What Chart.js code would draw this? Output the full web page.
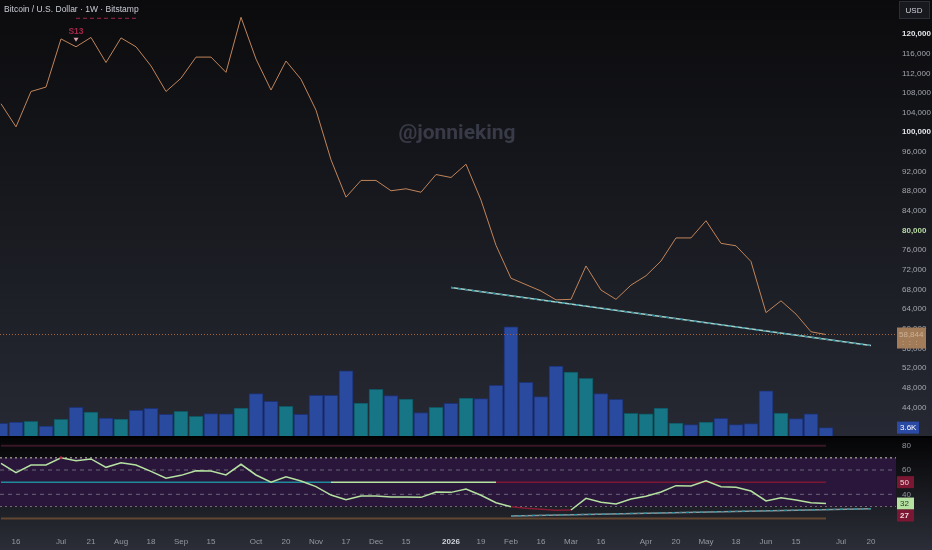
<!DOCTYPE html>
<html>
<head>
<meta charset="utf-8">
<script src="https://cdn.jsdelivr.net/npm/chart.js@4.4.1/dist/chart.umd.min.js"></script>
<style>
  html, body { margin: 0; padding: 0; background: #0b0b0d; overflow: hidden; }
  #wrap { position: relative; width: 932px; height: 550px; }
  canvas { position: absolute; left: 0; }
  #price { top: 0; }
  #rsi { top: 436px; }
</style>
</head>
<body>
<div id="wrap">
  <canvas id="price" width="932" height="436"></canvas>
  <canvas id="rsi" width="932" height="114"></canvas>
</div>
<script>
// weekly bars, Jun 9 2025 .. Jun 29 2026 (index 0..55)
const prices = [105800, 101100, 108300, 109200, 119000, 117400, 119300, 114200, 119200, 117400,
  113500, 108300, 111000, 115300, 115300, 112200, 123400, 114900, 108600, 114500,
  110800, 104500, 94400, 86800, 90200, 90200, 88100, 88500, 87800, 91400,
  90800, 93500, 86200, 77000, 70300, 69000, 67700, 65900, 66000, 72800,
  67900, 66000, 68900, 70800, 73800, 78500, 78500, 82000, 77400, 76900,
  73700, 63300, 65700, 63000, 59400, 58844];

// volume in thousands of BTC, 1 = up week
const volumes = [5.4, 6.0, 6.3, 4.3, 7.2, 12.3, 10.3, 7.7, 7.3, 11.0,
  11.9, 9.3, 10.6, 8.5, 9.6, 9.5, 12.0, 18.2, 14.9, 12.8,
  9.3, 17.5, 17.5, 28.0, 14.2, 20.1, 17.4, 15.9, 10.1, 12.3,
  14.1, 16.3, 16.1, 21.8, 46.9, 23.1, 16.9, 30.1, 27.5, 24.8,
  18.2, 15.8, 9.8, 9.5, 12.0, 5.6, 4.9, 6.0, 7.6, 4.9,
  5.3, 19.4, 9.9, 7.5, 9.5, 3.6];
const volUp = [0, 0, 1, 0, 1, 0, 1, 0, 1, 0,
  0, 0, 1, 1, 0, 0, 1, 0, 0, 1,
  0, 0, 0, 0, 1, 1, 0, 1, 0, 1,
  0, 1, 0, 0, 0, 0, 0, 0, 1, 1,
  0, 0, 1, 1, 1, 1, 0, 1, 0, 0,
  0, 0, 1, 0, 0, 0];

const rsi = [65.5, 57.8, 64.1, 64.1, 70.1, 67.7, 69.1, 62.2, 66.0, 64.1,
  58.9, 53.2, 55.6, 59.4, 59.2, 55.9, 64.7, 55.9, 49.9, 54.5,
  50.9, 46.3, 39.4, 35.6, 38.6, 38.6, 37.8, 37.8, 37.5, 41.9,
  41.6, 44.4, 39.2, 33.1, 29.8, 28.5, 27.7, 26.8, 27.1, 36.7,
  33.4, 32.0, 36.1, 38.4, 41.9, 47.1, 46.8, 51.2, 46.3, 45.8,
  42.7, 34.5, 37.2, 35.3, 33.1, 32.4];

// state of the 50 line: starts at these bar indexes
const midStart = [0, 22, 33];
const midState = ['up', 'flat', 'down'];

// drawn trend lines (bar index / value)
const trendIdx = [30, 58];
const trendVal = [68400, 56600];
const rsiTrendIdx = [34, 58];
const rsiTrendVal = [22.2, 28.2];

// TD sequential S13 level
const tdIdx = [5, 9];
const tdLevel = 123200;
const tdLabelIdx = 5;

const priceTicks = [44000, 48000, 52000, 56000, 60000, 64000, 68000, 72000, 76000, 80000,
  84000, 88000, 92000, 96000, 100000, 104000, 108000, 112000, 116000, 120000];
const rsiTicks = [40, 60, 80];
const timeTickIdx = [1, 4, 6, 8, 10, 12, 14, 17, 19, 21, 23, 25, 27, 30, 32, 34, 36, 38, 40, 43, 45, 47, 49, 51, 53, 56, 58];
const timeTickText = ['16', 'Jul', '21', 'Aug', '18', 'Sep', '15', 'Oct', '20', 'Nov', '17', 'Dec', '15', '2026',
  '19', 'Feb', '16', 'Mar', '16', 'Apr', '20', 'May', '18', 'Jun', '15', 'Jul', '20'];

const X_MIN = -0.0667;
const X_MAX = 59.6667;
const FONT = '"Liberation Sans", Arial, sans-serif';
const AXIS_W = 36;

Chart.defaults.font.family = FONT;
Chart.defaults.animation = false;

const last = prices.length - 1;
const xy = (arr) => arr.map((v, i) => ({ x: i, y: v }));
const span = (v) => [{ x: X_MIN, y: v }, { x: X_MAX, y: v }];
const upto = (v) => [{ x: 0, y: v }, { x: last, y: v }];

// no label overflow padding, panes must line up exactly
function noPad(s) {
  s.paddingTop = 0; s.paddingBottom = 0; s.paddingLeft = 0; s.paddingRight = 0;
}

function box(ctx, x, y, w, h, fill, text, color, font) {
  ctx.fillStyle = fill;
  ctx.fillRect(x, y - h / 2, w, h);
  ctx.fillStyle = color;
  ctx.font = font;
  ctx.textBaseline = 'middle';
  ctx.textAlign = 'left';
  ctx.fillText(text, x + 3, y + 0.5);
}

const bigTick = (v) => v === 120000 || v === 100000 || v === 80000;

const pricePlugin = {
  id: 'pricePane',
  beforeDraw(chart) {
    const { ctx, width, height } = chart;
    const g = ctx.createLinearGradient(0, 0, 0, height);
    g.addColorStop(0, '#0b0b0d');
    g.addColorStop(1, '#262933');
    ctx.save();
    ctx.fillStyle = g;
    ctx.fillRect(0, 0, width, height);
    ctx.restore();
  },
  beforeDatasetsDraw(chart) {
    const { ctx } = chart;
    ctx.save();
    ctx.font = 'bold 21px Roboto, ' + FONT;
    ctx.fillStyle = '#383b47';
    ctx.textAlign = 'center';
    ctx.textBaseline = 'middle';
    ctx.fillText('@jonnieking', 457, 134);
    ctx.restore();
  },
  afterDraw(chart) {
    const { ctx } = chart;
    const xs = chart.scales.x, ys = chart.scales.y, yv = chart.scales.yv;
    ctx.save();
    // title
    ctx.font = '8.5px ' + FONT;
    ctx.fillStyle = '#c9ccd4';
    ctx.textBaseline = 'middle';
    ctx.textAlign = 'left';
    ctx.fillText('Bitcoin / U.S. Dollar \u00b7 1W \u00b7 Bitstamp', 4, 10);
    // S13 marker
    const sx = xs.getPixelForValue(tdLabelIdx);
    const sy = ys.getPixelForValue(prices[tdLabelIdx]);
    ctx.font = 'bold 8.5px ' + FONT;
    ctx.fillStyle = '#a3264a';
    ctx.textAlign = 'center';
    ctx.fillText('S13', sx, sy - 15);
    ctx.fillStyle = '#d9a3ad';
    ctx.beginPath();
    ctx.moveTo(sx - 2.5, sy - 9);
    ctx.lineTo(sx + 2.5, sy - 9);
    ctx.lineTo(sx, sy - 5);
    ctx.closePath();
    ctx.fill();
    // USD box
    ctx.fillStyle = '#17191e';
    ctx.strokeStyle = '#2c2f37';
    ctx.lineWidth = 1;
    ctx.fillRect(899.5, 1.5, 30, 17);
    ctx.strokeRect(899.5, 1.5, 30, 17);
    ctx.fillStyle = '#d1d4dc';
    ctx.font = '8px ' + FONT;
    ctx.textAlign = 'center';
    ctx.fillText('USD', 914, 10.5);
    // last price box
    const py = ys.getPixelForValue(prices[last]);
    ctx.fillStyle = '#a27b58';
    ctx.fillRect(897, py - 7, 29, 21);
    ctx.fillStyle = 'rgba(255,240,225,0.45)';
    ctx.font = '8px ' + FONT;
    ctx.textAlign = 'left';
    ctx.fillText(prices[last].toLocaleString('en-US'), 899, py);
    ctx.fillText(':  :  :', 902, py + 8);
    // volume box
    const vy = yv.getPixelForValue(volumes[last]);
    box(ctx, 897, Math.max(vy, 426.7), 22, 12, '#2b4aa6', volumes[last].toFixed(1) + 'K', '#ffffff', '8px ' + FONT);
    ctx.restore();
  }
};

new Chart(document.getElementById('price'), {
  data: {
    datasets: [
      {
        type: 'line', data: xy(prices), borderColor: '#c0845a', borderWidth: 1,
        pointRadius: 0, tension: 0, order: 1
      },
      {
        type: 'line', data: trendIdx.map((x, k) => ({ x, y: trendVal[k] })),
        borderColor: '#2b8d9d', borderWidth: 1.4, borderDash: [3, 4], pointRadius: 0, order: 2
      },
      {
        type: 'line', data: trendIdx.map((x, k) => ({ x, y: trendVal[k] })),
        borderColor: '#a9cfc9', borderWidth: 1.6, pointRadius: 0, order: 3
      },
      {
        type: 'line', data: span(prices[last]), borderColor: '#a8653a', borderWidth: 1,
        borderDash: [1, 2], pointRadius: 0, order: 4
      },
      {
        type: 'line', data: tdIdx.map((x) => ({ x, y: tdLevel })), borderColor: '#a3264a',
        borderWidth: 1, borderDash: [4, 3], pointRadius: 0, order: 4
      },
      {
        type: 'bar', yAxisID: 'yv', data: xy(volumes), barThickness: 14, order: 10,
        backgroundColor: volUp.map((u) => (u ? '#167686' : '#2a4aa0')),
        borderColor: volUp.map((u) => (u ? '#0f5560' : '#1d3275')),
        borderWidth: 1, borderSkipped: 'bottom'
      }
    ]
  },
  options: {
    responsive: false,
    devicePixelRatio: 1,
    layout: { padding: 0 },
    plugins: { legend: { display: false }, tooltip: { enabled: false } },
    scales: {
      x: { type: 'linear', min: X_MIN, max: X_MAX, offset: false, display: false },
      y: {
        position: 'right', min: 38193, max: 126919,
        grid: { display: false, drawTicks: false }, border: { display: false },
        afterFit(s) { s.width = AXIS_W; noPad(s); },
        afterBuildTicks(s) { s.ticks = priceTicks.map((v) => ({ value: v })); },
        ticks: {
          padding: 6,
          callback: (v) => v.toLocaleString('en-US'),
          color: (c) => {
            const v = c.tick ? c.tick.value : 0;
            if (v === 80000) return '#b7dba4';
            return bigTick(v) ? '#e3e5ea' : '#a3a6af';
          },
          font: (c) => ({ size: 8, weight: c.tick && bigTick(c.tick.value) ? 'bold' : 'normal' })
        }
      },
      yv: { display: false, min: 0, max: 187.5 }
    }
  },
  plugins: [pricePlugin]
});

const midColors = { up: '#1f8b9b', flat: '#b5e1a1', down: '#7c1733' };
function midAt(i) {
  let s = midState[0];
  midStart.forEach((st, k) => { if (i >= st) s = midState[k]; });
  return midColors[s];
}
function trendAt(i) {
  const t = (i - rsiTrendIdx[0]) / (rsiTrendIdx[1] - rsiTrendIdx[0]);
  return rsiTrendVal[0] + t * (rsiTrendVal[1] - rsiTrendVal[0]);
}

const rsiPlugin = {
  id: 'rsiPane',
  beforeDraw(chart) {
    const { ctx, width, height } = chart;
    const g = ctx.createLinearGradient(0, 0, 0, height);
    g.addColorStop(0, '#040405');
    g.addColorStop(0.55, '#1b1c22');
    g.addColorStop(1, '#2b2e38');
    ctx.save();
    ctx.fillStyle = g;
    ctx.fillRect(0, 0, width, height);
    ctx.fillStyle = '#000000';
    ctx.fillRect(0, 0, width, 2);
    ctx.restore();
  },
  afterDraw(chart) {
    const { ctx } = chart;
    const ys = chart.scales.y;
    ctx.save();
    const f = '8px ' + FONT;
    box(ctx, 897, ys.getPixelForValue(50), 17, 12, '#7c1733', '50', '#f0d8dc', f);
    const y32 = ys.getPixelForValue(rsi[last]);
    box(ctx, 897, y32, 17, 12, '#b5e1a1', String(Math.round(rsi[last])), '#2a3a25', f);
    const tv = trendAt(last);
    const yt = Math.max(ys.getPixelForValue(tv), y32 + 12);
    box(ctx, 897, yt, 17, 12, '#7c1733', String(Math.floor(tv)), '#f0d8dc', 'bold ' + f);
    ctx.restore();
  }
};

const isBoldTime = (c) => c.index !== undefined && timeTickText[c.index] === '2026';

new Chart(document.getElementById('rsi'), {
  type: 'line',
  data: {
    datasets: [
      {
        data: xy(rsi), borderColor: '#b5e1a1', borderWidth: 1.5, tension: 0, order: 1,
        segment: { borderColor: (c) => (c.p0.parsed.y < 30 && c.p1.parsed.y < 30 ? '#8a1a38' : undefined) },
        pointRadius: (c) => (c.raw && c.raw.y >= 70 ? 1.5 : 0),
        pointBackgroundColor: '#c0304a', pointBorderWidth: 0
      },
      {
        data: rsiTrendIdx.map((x, k) => ({ x, y: rsiTrendVal[k] })), borderColor: '#2b8d9d',
        borderWidth: 1.3, borderDash: [3, 4], pointRadius: 0, order: 2
      },
      {
        data: rsiTrendIdx.map((x, k) => ({ x, y: rsiTrendVal[k] })), borderColor: '#8f989c',
        borderWidth: 1.5, pointRadius: 0, order: 3
      },
      {
        data: rsi.map((v, i) => ({ x: i, y: 50 })), borderWidth: 1.5, pointRadius: 0, order: 4,
        borderColor: '#1f8b9b',
        segment: { borderColor: (c) => midAt(c.p0DataIndex) }
      },
      { data: upto(80), borderColor: '#3a1727', borderWidth: 2, pointRadius: 0, order: 5 },
      { data: upto(20), borderColor: '#634630', borderWidth: 2, pointRadius: 0, order: 5 },
      { data: span(60), borderColor: '#6c6878', borderWidth: 1, borderDash: [4, 4], pointRadius: 0, order: 6 },
      { data: span(40), borderColor: '#6c6878', borderWidth: 1, borderDash: [4, 4], pointRadius: 0, order: 6 },
      {
        data: span(70), borderColor: '#cdcdb3', borderWidth: 1, borderDash: [2, 3], pointRadius: 0, order: 7,
        fill: { target: { value: 30 } }, backgroundColor: '#29163a'
      },
      { data: span(30), borderColor: '#cdcdb3', borderWidth: 1, borderDash: [2, 3], pointRadius: 0, order: 7 }
    ]
  },
  options: {
    responsive: false,
    devicePixelRatio: 1,
    layout: { padding: { top: 1 } },
    plugins: { legend: { display: false }, tooltip: { enabled: false } },
    scales: {
      x: {
        type: 'linear', min: X_MIN, max: X_MAX, offset: false,
        grid: { display: false, drawTicks: false }, border: { display: false },
        afterFit(s) { s.height = 30; noPad(s); },
        afterBuildTicks(s) { s.ticks = timeTickIdx.map((v) => ({ value: v })); },
        ticks: {
          autoSkip: false, maxRotation: 0, padding: 17,
          callback: (v) => timeTickText[timeTickIdx.indexOf(v)],
          color: (c) => (isBoldTime(c) ? '#d1d4dc' : '#9598a1'),
          font: (c) => ({ size: 8, weight: isBoldTime(c) ? 'bold' : 'normal' })
        }
      },
      y: {
        position: 'right', min: 18.85, max: 87.16,
        grid: { display: false, drawTicks: false }, border: { display: false },
        afterFit(s) { s.width = AXIS_W; noPad(s); },
        afterBuildTicks(s) { s.ticks = rsiTicks.map((v) => ({ value: v })); },
        ticks: { padding: 6, color: '#9598a1', font: { size: 8 } }
      }
    }
  },
  plugins: [rsiPlugin]
});
</script>
</body>
</html>
